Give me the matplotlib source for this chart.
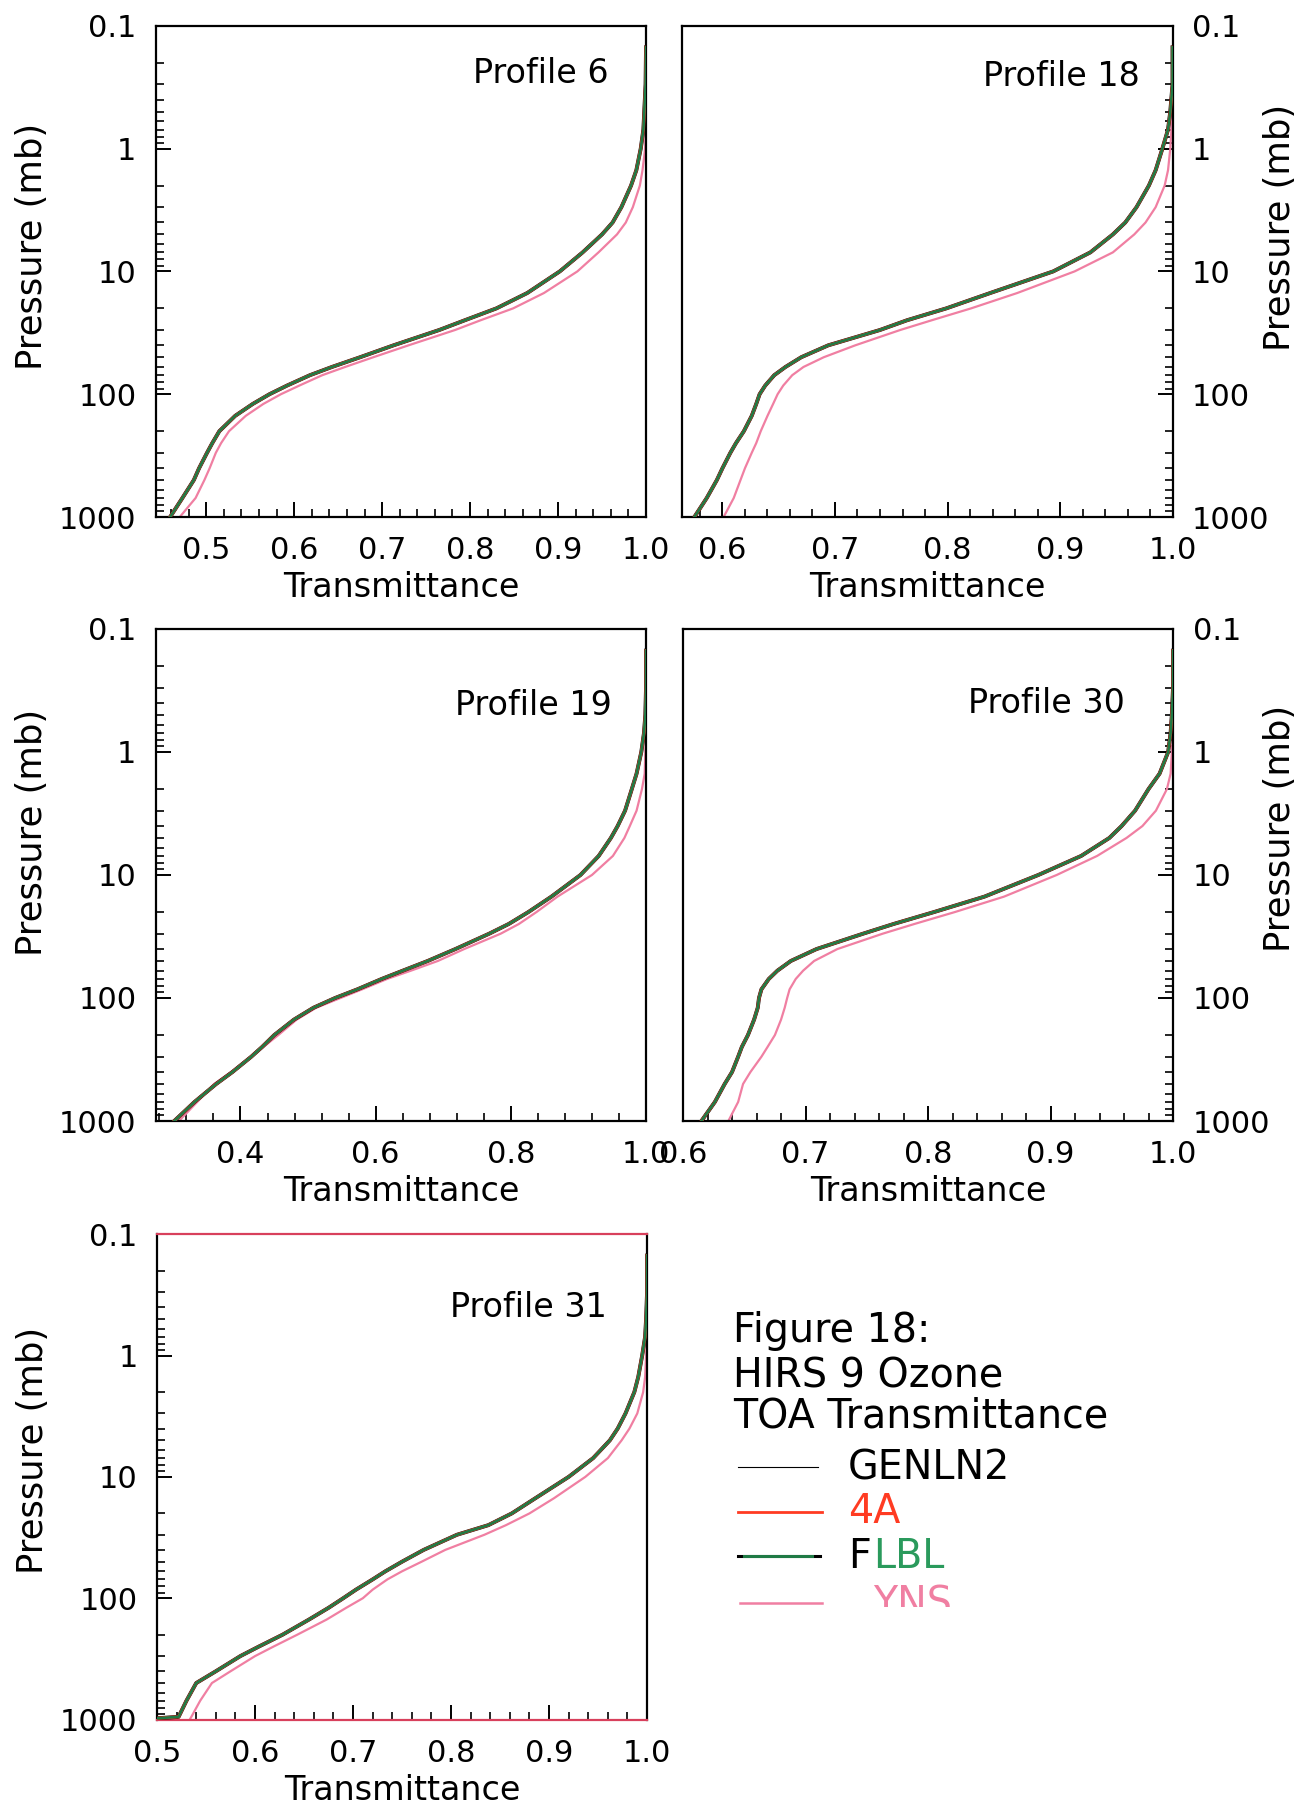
import numpy as np
import matplotlib
matplotlib.use("Agg")
import matplotlib.pyplot as plt
from matplotlib.ticker import FixedLocator, MultipleLocator, NullFormatter, LogLocator, FormatStrFormatter
from matplotlib.transforms import Bbox, TransformedBbox

# pressure levels (mb) shared by profiles 6, 18, 19, 30
pres = [0.15, 0.3, 0.5, 0.7, 1, 1.5, 2, 3, 4, 5, 7, 10, 15, 20, 25, 30, 40, 50, 60,
        70, 85, 100, 120, 150, 200, 250, 300, 400, 500, 700, 1000]
# profile 31 ends a little differently near the surface
pres31 = [0.15, 0.3, 0.5, 0.7, 1, 1.5, 2, 3, 4, 5, 7, 10, 15, 20, 25, 30, 40, 50, 60,
          70, 85, 100, 120, 150, 200, 250, 300, 400, 500, 700, 950, 980]

# transmittance; GENLN2 / 4A lie under the FLBL curve
p6_flbl = [1.0, 0.9995, 0.998, 0.997, 0.994, 0.989, 0.983, 0.972, 0.962, 0.950, 0.928,
           0.902, 0.865, 0.830, 0.794, 0.765, 0.713, 0.675, 0.643, 0.618, 0.592, 0.572,
           0.553, 0.533, 0.515, 0.507, 0.501, 0.492, 0.486, 0.473, 0.459]
p6_yns = [1.0, 1.0, 1.0, 0.9995, 0.999, 0.996, 0.993, 0.985, 0.977, 0.967, 0.946,
          0.922, 0.884, 0.849, 0.812, 0.783, 0.730, 0.690, 0.658, 0.632, 0.606, 0.585,
          0.565, 0.545, 0.526, 0.517, 0.511, 0.504, 0.498, 0.488, 0.470]

p18_flbl = [1.0, 1.0, 0.998, 0.996, 0.991, 0.985, 0.979, 0.968, 0.958, 0.947, 0.927,
            0.894, 0.838, 0.799, 0.764, 0.740, 0.694, 0.670, 0.656, 0.646, 0.638, 0.633,
            0.630, 0.626, 0.619, 0.612, 0.607, 0.600, 0.595, 0.586, 0.575]
p18_yns = [1.0, 1.0, 1.0, 0.999, 0.998, 0.996, 0.993, 0.985, 0.976, 0.966, 0.947,
           0.913, 0.862, 0.821, 0.786, 0.758, 0.718, 0.690, 0.672, 0.662, 0.654, 0.649,
           0.645, 0.640, 0.634, 0.630, 0.626, 0.620, 0.616, 0.610, 0.601]

p19_flbl = [1.0, 1.0, 0.999, 0.997, 0.993, 0.986, 0.979, 0.969, 0.958, 0.948, 0.930,
            0.903, 0.860, 0.826, 0.797, 0.768, 0.718, 0.677, 0.640, 0.609, 0.573, 0.540,
            0.508, 0.479, 0.450, 0.432, 0.416, 0.388, 0.364, 0.332, 0.302]
p19_yns = [1.0, 1.0, 1.0, 1.0, 0.999, 0.998, 0.994, 0.986, 0.976, 0.968, 0.951,
           0.920, 0.869, 0.838, 0.812, 0.785, 0.731, 0.692, 0.652, 0.617, 0.580, 0.548,
           0.512, 0.483, 0.456, 0.434, 0.415, 0.386, 0.361, 0.336, 0.309]

p30_flbl = [1.0, 1.0, 0.999, 0.998, 0.996, 0.989, 0.980, 0.969, 0.958, 0.948, 0.925,
            0.890, 0.846, 0.805, 0.772, 0.747, 0.709, 0.688, 0.677, 0.670, 0.664, 0.662,
            0.661, 0.658, 0.653, 0.648, 0.645, 0.640, 0.634, 0.626, 0.615]
p30_yns = [1.0, 1.0, 1.0, 1.0, 0.999, 0.998, 0.995, 0.986, 0.975, 0.962, 0.938,
           0.905, 0.862, 0.822, 0.789, 0.763, 0.726, 0.707, 0.698, 0.692, 0.687, 0.685,
           0.683, 0.680, 0.675, 0.669, 0.664, 0.655, 0.649, 0.645, 0.637]

p31_flbl = [1.0, 1.0, 0.999, 0.998, 0.995, 0.991, 0.987, 0.978, 0.970, 0.962, 0.945,
            0.920, 0.886, 0.862, 0.838, 0.806, 0.772, 0.750, 0.733, 0.720, 0.703, 0.690,
            0.675, 0.655, 0.628, 0.604, 0.585, 0.560, 0.540, 0.530, 0.522, 0.497]
p31_yns = [1.0, 1.0, 1.0, 1.0, 0.999, 0.998, 0.996, 0.990, 0.982, 0.974, 0.960,
           0.937, 0.905, 0.880, 0.856, 0.834, 0.794, 0.770, 0.750, 0.735, 0.720, 0.710,
           0.693, 0.673, 0.643, 0.619, 0.600, 0.575, 0.556, 0.544, 0.535, 0.534]

titles = ["Profile 6", "Profile 18", "Profile 19", "Profile 30", "Profile 31"]
xlims = [(0.443, 1.0), (0.564, 1.0), (0.275, 1.0), (0.6, 1.0), (0.5, 1.0)]
xmajor = [0.1, 0.1, 0.2, 0.1, 0.1]
xminor = [0.02, 0.02, 0.04, 0.02, 0.02]
ytick_vals = [0.1, 1, 10, 100, 1000]
ytick_labels = ["0.1", "1", "10", "100", "1000"]

GREEN = "#1f7a45"
PINK = "#f07fa2"
RED = "#ff3b22"

plt.rcParams["font.family"] = ["DejaVu Sans"]

fig = plt.figure(figsize=(13.12, 18.11), dpi=100)

# [left, bottom, width, height] in figure fraction
boxes = [
    [0.1189, 0.7145, 0.3735, 0.2713],
    [0.5198, 0.7145, 0.3739, 0.2713],
    [0.1189, 0.3810, 0.3735, 0.2717],
    [0.5206, 0.3810, 0.3735, 0.2717],
    [0.1197, 0.0505, 0.3735, 0.2680],
]
title_pos = [(0.924, 0.902), (0.933, 0.896), (0.930, 0.844), (0.902, 0.848), (0.918, 0.848)]
ylabel_pos = [(-0.254, 0.55), (1.219, 0.59), (-0.254, 0.586), (1.219, 0.594), (-0.254, 0.555)]
series = [
    (pres, p6_flbl, p6_yns),
    (pres, p18_flbl, p18_yns),
    (pres, p19_flbl, p19_yns),
    (pres, p30_flbl, p30_yns),
    (pres31, p31_flbl, p31_yns),
]

for i, box in enumerate(boxes):
    ax = fig.add_axes(box)
    p, flbl, yns = series[i]
    ax.plot(yns, p, color=PINK, lw=1.6, zorder=2)
    ax.plot(flbl, p, color="black", lw=2.8, zorder=3)      # GENLN2 underneath
    ax.plot(flbl, p, color=RED, lw=2.3, zorder=3)          # 4A
    ax.plot(flbl, p, color=GREEN, lw=1.9, zorder=4)        # FLBL

    ax.set_yscale("log")
    ax.set_ylim(1000, 0.1)
    ax.set_xlim(*xlims[i])
    ax.yaxis.set_major_locator(FixedLocator(ytick_vals))
    ax.set_yticklabels(ytick_labels)
    ax.yaxis.set_minor_locator(LogLocator(base=10, subs=np.arange(2, 10)))
    ax.yaxis.set_minor_formatter(NullFormatter())
    ax.xaxis.set_major_locator(MultipleLocator(xmajor[i]))
    ax.xaxis.set_minor_locator(MultipleLocator(xminor[i]))
    ax.xaxis.set_major_formatter(FormatStrFormatter("%.1f"))

    right = i in (1, 3)
    ax.tick_params(axis="both", which="major", direction="in", length=11, width=1.4,
                   labelsize=22, pad=14)
    ax.tick_params(axis="both", which="minor", direction="in", length=6, width=1.2)
    ax.tick_params(axis="x", which="both", top=False, bottom=True)
    ax.tick_params(axis="y", which="both", left=not right, right=right,
                   labelleft=not right, labelright=right)

    for s in ax.spines.values():
        s.set_linewidth(1.6)
    if i == 4:
        ax.spines["top"].set_color("#d8405c")
        ax.spines["bottom"].set_color("#d8405c")

    ax.set_xlabel("Transmittance", fontsize=24, labelpad=4)
    ax.set_ylabel("Pressure (mb)", fontsize=25.5)
    if right:
        ax.yaxis.set_label_position("right")
        ax.yaxis.label.set_rotation(90)
    ax.yaxis.set_label_coords(*ylabel_pos[i])
    ax.yaxis.label.set_va("center")
    ax.text(title_pos[i][0], title_pos[i][1], titles[i], transform=ax.transAxes,
            ha="right", va="center", fontsize=24)

# caption and legend block
W, H = 1312.0, 1811.0
fs = 28.5
fig.text(733 / W, 1 - 1342 / H, "Figure 18:", fontsize=fs, va="baseline")
fig.text(733 / W, 1 - 1388 / H, "HIRS 9 Ozone", fontsize=fs, va="baseline")
fig.text(733 / W, 1 - 1428 / H, "TOA Transmittance", fontsize=fs, va="baseline")

leg_names = ["GENLN2", "4A", "FLBL", "YNS"]
leg_text_y = [1479, 1523, 1568, 1615]

fig.add_artist(plt.Line2D([738 / W, 818 / W], [1 - 1467 / H] * 2, color="black", lw=0.8))
fig.add_artist(plt.Line2D([738 / W, 822 / W], [1 - 1512 / H] * 2, color=RED, lw=2.0))
fig.add_artist(plt.Line2D([738 / W, 820 / W], [1 - 1556 / H] * 2, color="black", lw=2.2))
fig.add_artist(plt.Line2D([744 / W, 812 / W], [1 - 1556 / H] * 2, color=GREEN, lw=2.2))
fig.add_artist(plt.Line2D([740 / W, 822 / W], [1 - 1603 / H] * 2, color=PINK, lw=1.8))

fig.text(848 / W, 1 - leg_text_y[0] / H, leg_names[0], fontsize=fs, va="baseline")
fig.text(848 / W, 1 - leg_text_y[1] / H, leg_names[1], fontsize=fs, va="baseline",
         color=RED)
fig.text(848 / W, 1 - leg_text_y[2] / H, "F", fontsize=fs, va="baseline")
fig.text(873 / W, 1 - leg_text_y[2] / H, "LBL", fontsize=fs, va="baseline", color="#2a9a5c")
yns = fig.text(873 / W, 1 - leg_text_y[3] / H, leg_names[3], fontsize=fs, va="baseline",
               color=PINK)
# the last legend entry is cut off in the source scan
yns.set_clip_box(TransformedBbox(Bbox.from_extents(0, 1 - 1607 / H, 1, 1), fig.transFigure))
yns.set_clip_on(True)

fig.savefig("out.png", dpi=100, facecolor="white")
